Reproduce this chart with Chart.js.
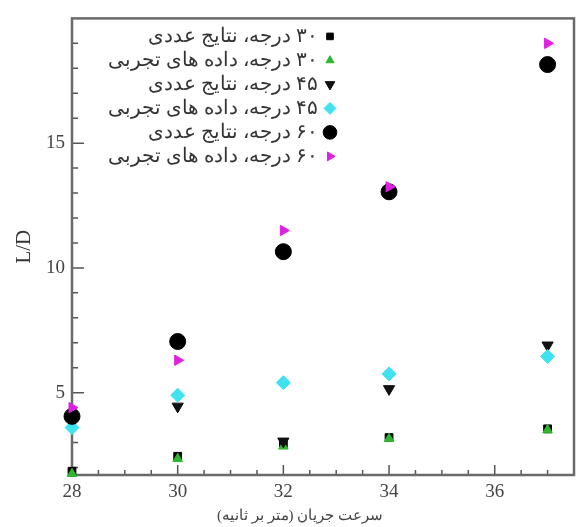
<!DOCTYPE html>
<html lang="fa">
<head>
<meta charset="UTF-8" />
<title>L/D</title>
<style>
  body { margin: 0; background: #fff; }
  #chart { display: block; }
</style>
</head>
<body>
<canvas id="chart" width="583" height="527"></canvas>
<script src="https://cdn.jsdelivr.net/npm/chart.js@4.4.0/dist/chart.umd.min.js"></script>
<script>
  // data
  const speeds = [28, 30, 32, 34, 37];
  const num30 = [1.85, 2.45, 2.95, 3.2, 3.55];
  const exp30 = [1.75, 2.35, 2.85, 3.15, 3.5];
  const num45 = [3.9, 4.45, 3.05, 5.15, 6.9];
  const exp45 = [3.6, 4.9, 5.4, 5.75, 6.45];
  const num60 = [4.05, 7.05, 10.65, 13.05, 18.15];
  const exp60 = [4.4, 6.3, 11.5, 13.25, 19.0];

  const xTicks = [28, 30, 32, 34, 36];
  const yTicks = [5, 10, 15];
  const labels = [
    '۳۰ درجه، نتایج عددی',
    '۳۰ درجه، داده های تجربی',
    '۴۵ درجه، نتایج عددی',
    '۴۵ درجه، داده های تجربی',
    '۶۰ درجه، نتایج عددی',
    '۶۰ درجه، داده های تجربی'
  ];
  const xTitle = 'سرعت جریان (متر بر ثانیه)';

  const serif = "'Liberation Serif', 'DejaVu Serif', serif";

  function pts(ys) {
    return speeds.map((x, i) => ({ x: x, y: ys[i] }));
  }

  function ds(i, ys, color, style, radius, rotation) {
    return {
      label: labels[i],
      data: pts(ys),
      backgroundColor: color,
      borderColor: color,
      pointStyle: style,
      pointRadius: radius,
      pointRotation: rotation,
      borderWidth: 1,
      showLine: false,
      clip: false,
      order: 5 - i
    };
  }

  // inward ticks, frame, x title and in-plot legend
  const framePlugin = {
    id: 'frame',
    beforeDatasetsDraw(chart) {
      const { ctx, chartArea: a, scales } = chart;
      ctx.save();
      ctx.strokeStyle = '#555';
      ctx.lineWidth = 1.5;
      ctx.beginPath();
      for (let v = 28; v <= 37.5; v += 0.5) {
        const x = scales.x.getPixelForValue(v);
        const len = (v % 2 === 0) ? 10 : 5;
        ctx.moveTo(x, a.bottom);
        ctx.lineTo(x, a.bottom - len);
      }
      for (let v = 2; v <= 19; v += 1) {
        const y = scales.y.getPixelForValue(v);
        const len = (v % 5 === 0) ? 12 : 6;
        ctx.moveTo(a.left, y);
        ctx.lineTo(a.left + len, y);
      }
      ctx.stroke();
      ctx.strokeStyle = '#6a6a6a';
      ctx.lineWidth = 2.5;
      ctx.strokeRect(a.left, a.top, a.right - a.left, a.bottom - a.top);

      ctx.fillStyle = '#444';
      ctx.font = "15px " + serif;
      ctx.direction = 'rtl';
      ctx.textAlign = 'center';
      ctx.textBaseline = 'middle';
      ctx.fillText(xTitle, 300, 516);
      ctx.restore();
    },
    afterDraw(chart) {
      const { ctx, chartArea: a } = chart;
      ctx.save();
      chart.data.datasets.forEach((d, i) => {
        const y = a.top + 18 + i * 24;
        const mx = a.left + 258;
        ctx.fillStyle = d.backgroundColor;
        ctx.strokeStyle = d.borderColor;
        ctx.lineWidth = 1;
        Chart.helpers.drawPoint(ctx, {
          pointStyle: d.pointStyle,
          radius: d.pointRadius * 0.85,
          rotation: d.pointRotation,
          borderWidth: 1
        }, mx, y);
        ctx.fillStyle = '#333';
        ctx.font = "20px " + serif;
        ctx.direction = 'rtl';
        ctx.textAlign = 'right';
        ctx.textBaseline = 'middle';
        ctx.fillText(d.label, mx - 12, y);
      });
      ctx.restore();
    }
  };

  const ctx = document.getElementById('chart').getContext('2d');

  new Chart(ctx, {
    type: 'scatter',
    data: {
      datasets: [
        ds(0, num30, '#000000', 'rect', 5.5, 0),
        ds(1, exp30, '#2fb52f', 'triangle', 5.5, 0),
        ds(2, num45, '#111111', 'triangle', 6.5, 180),
        ds(3, exp45, '#3fe3ef', 'rectRot', 7, 0),
        ds(4, num60, '#000000', 'circle', 8, 0),
        ds(5, exp60, '#e020e0', 'triangle', 6, 90)
      ]
    },
    options: {
      responsive: false,
      animation: false,
      layout: { padding: { top: 13, right: 3, left: 0, bottom: 0 } },
      plugins: {
        legend: { display: false },
        tooltip: { enabled: false }
      },
      scales: {
        x: {
          type: 'linear',
          min: 28,
          max: 37.5,
          afterFit(scale) { scale.height = 52; },
          afterBuildTicks(scale) { scale.ticks = xTicks.map(v => ({ value: v })); },
          grid: { display: false, drawTicks: false },
          border: { display: false },
          ticks: {
            padding: 6,
            color: '#444',
            font: { family: serif, size: 19 }
          }
        },
        y: {
          type: 'linear',
          min: 1.7,
          max: 20,
          afterFit(scale) { scale.width = 72; },
          afterBuildTicks(scale) { scale.ticks = yTicks.map(v => ({ value: v })); },
          grid: { display: false, drawTicks: false },
          border: { display: false },
          ticks: {
            padding: 7,
            color: '#444',
            font: { family: serif, size: 19 }
          },
          title: {
            display: true,
            text: 'L/D',
            color: '#333',
            font: { family: serif, size: 21, lineHeight: 1.2 },
            padding: { top: 12, bottom: 0 }
          }
        }
      }
    },
    plugins: [framePlugin]
  });
</script>
</body>
</html>
